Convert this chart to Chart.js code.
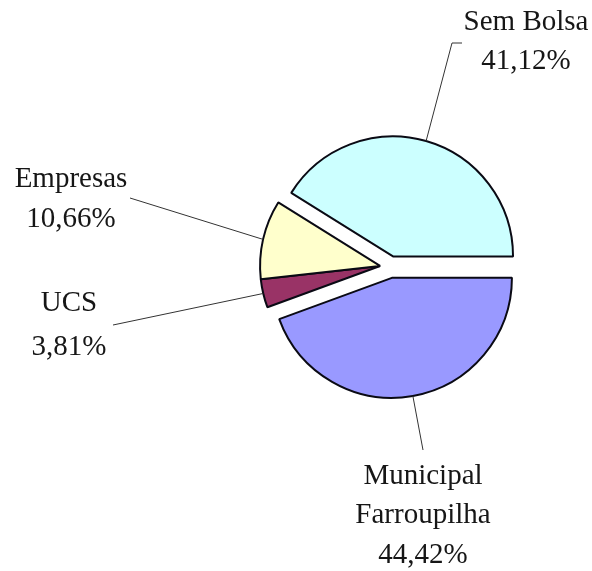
<!DOCTYPE html>
<html>
<head>
<meta charset="utf-8">
<script src="https://cdn.jsdelivr.net/npm/chart.js@4.4.1/dist/chart.umd.min.js"></script>
<style>
  html, body { margin: 0; padding: 0; background: #fff; }
  canvas { display: block; }
</style>
</head>
<body>
<canvas id="bolsas" width="592" height="571"></canvas>
<script>
// Alunos por fonte de bolsa (%)
const categorias = [['Sem Bolsa'], ['Municipal', 'Farroupilha'], ['UCS'], ['Empresas']]
const percentuais = [41.12, 44.42, 3.81, 10.66]
const cores = ['#CCFFFF', '#9999FF', '#993366', '#FFFFCC']

// slices in the same group are pulled out together, by the group's distance
const grupoDestaque = [0, 1, 2, 2]
const distDestaque = [11, 11, 10]

// callouts: text centre x, first line y, line step, leader line end points
const rotulos = [
  { x: 526, y: 22, lh: 39, leader: [[452, 43], [462, 43]] },
  { x: 423, y: 476, lh: 39.5, leader: [[423, 450]] },
  { x: 69, y: 303, lh: 44, leader: [[113, 325]] },
  { x: 71, y: 179, lh: 40, leader: [[130, 198]] },
]

const soma = percentuais.reduce((a, b) => a + b, 0)
const fmtPct = v => v.toFixed(2).replace('.', ',') + '%'

const explodePlugin = {
  id: 'explode',
  afterDatasetsUpdate(chart) {
    const arcs = chart.getDatasetMeta(0).data
    distDestaque.forEach((dist, g) => {
      const membros = arcs.filter((_, i) => grupoDestaque[i] === g)
      const ini = Math.min(...membros.map(a => a.startAngle))
      const fim = Math.max(...membros.map(a => a.endAngle))
      const mid = (ini + fim) / 2
      membros.forEach(a => {
        a.x += Math.cos(mid) * dist
        a.y += Math.sin(mid) * dist
      })
    })
  },
}

const calloutPlugin = {
  id: 'callouts',
  afterDatasetsDraw(chart) {
    const { ctx } = chart
    const arcs = chart.getDatasetMeta(0).data
    ctx.save()
    arcs.forEach((arc, i) => {
      const r = rotulos[i]
      const mid = (arc.startAngle + arc.endAngle) / 2
      ctx.beginPath()
      ctx.moveTo(arc.x + Math.cos(mid) * arc.outerRadius, arc.y + Math.sin(mid) * arc.outerRadius)
      r.leader.forEach(([x, y]) => ctx.lineTo(x, y))
      ctx.strokeStyle = '#333'
      ctx.lineWidth = 1
      ctx.stroke()

      ctx.fillStyle = '#161616'
      ctx.font = '29px "Liberation Serif", "Times New Roman", serif'
      ctx.textAlign = 'center'
      ctx.textBaseline = 'middle'
      const linhas = [...categorias[i], fmtPct(percentuais[i])]
      linhas.forEach((t, k) => ctx.fillText(t, r.x, r.y + k * r.lh))
    })
    ctx.restore()
  },
}

new Chart(document.getElementById('bolsas'), {
  type: 'pie',
  data: {
    labels: categorias.map(c => c.join(' ')),
    datasets: [{
      data: percentuais,
      backgroundColor: cores,
      borderColor: '#0a0a14',
      borderWidth: 2,
      borderJoinStyle: 'bevel',
      radius: 120,
    }],
  },
  options: {
    responsive: false,
    animation: false,
    events: [],
    rotation: 90 - percentuais[0] / soma * 360,
    layout: { padding: { left: 250, right: 62, top: 100, bottom: 137 } },
    plugins: {
      legend: { display: false },
      tooltip: { enabled: false },
    },
  },
  plugins: [explodePlugin, calloutPlugin],
})
</script>
</body>
</html>
